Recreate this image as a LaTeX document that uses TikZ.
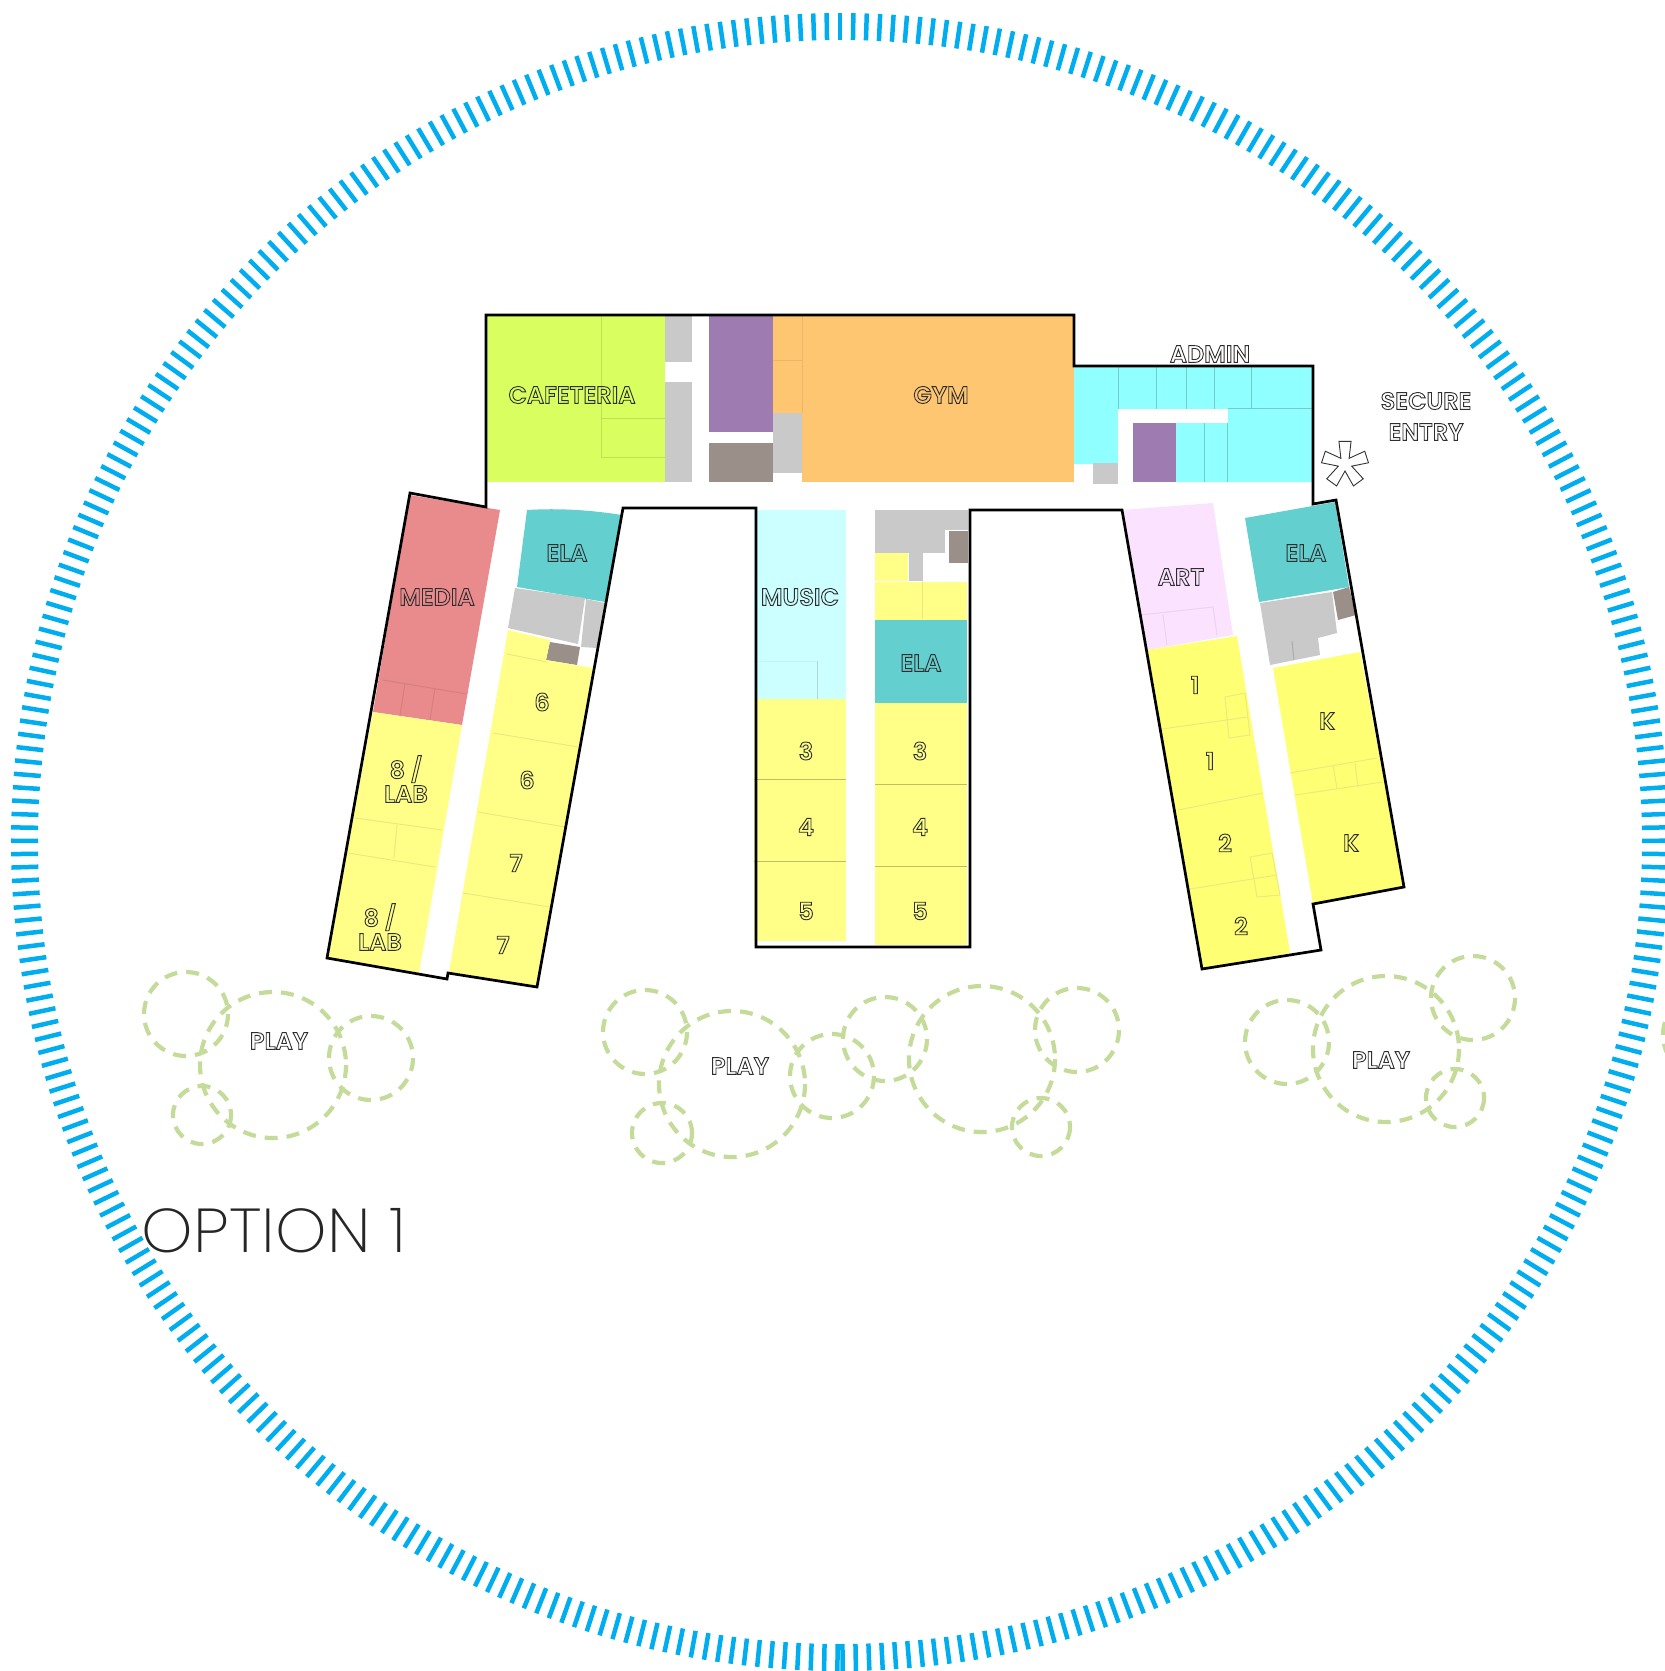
\documentclass[tikz,border=0pt]{standalone}
\usepackage{fontspec}
\setmainfont{Poppins}[UprightFont=* SemiBold]
\newfontfamily\thinfont{Poppins}[UprightFont=* ExtraLight]
\definecolor{tickblue}{HTML}{00AEEF}
\definecolor{limezone}{HTML}{D8FF5F}
\definecolor{orangezone}{HTML}{FFC671}
\definecolor{purplezone}{HTML}{9E7BB0}
\definecolor{brownzone}{HTML}{9B8F8A}
\definecolor{grayzone}{HTML}{C9C9C9}
\definecolor{adminzone}{HTML}{90FFFF}
\definecolor{musiczone}{HTML}{CCFFFF}
\definecolor{yellowzone}{HTML}{FFFF88}
\definecolor{tealzone}{HTML}{64CFCF}
\definecolor{mediazone}{HTML}{E98A8C}
\definecolor{artzone}{HTML}{FBE2FF}
\definecolor{playgreen}{HTML}{C4DB9A}
\newcommand{\hollowon}{\special{pdf:code 1 Tr 0.9 w 0.18 0.18 0.18 RG}}
\newcommand{\hollowoff}{\special{pdf:code 0 Tr}}
\newcommand{\hollow}[1]{\hollowon #1\hollowoff}
\tikzset{
	tickmark/.style={tickblue,line width=4.5},
	outline/.style={black,line width=2.7,line join=miter},
	roomline/.style={line width=1},
	playring/.style={playgreen,line width=4.2,dash pattern=on 13 off 9},
	room/.style={font=\fontsize{24}{24}\selectfont,align=center,inner sep=0pt},
}
\begin{document}
\begin{tikzpicture}[x=1pt,y=-1pt]
	\useasboundingbox (0,0) rectangle (1665,1671);
	% ring
	\foreach \i in {0,...,388} {
		\pgfmathsetmacro{\a}{90.176+\i*0.92693}
		\draw[tickmark] ([shift={(840,842)}]\a:802) -- ([shift={(840,842)}]\a:829);
	}
	% north bar
	\fill[limezone] (486,315) rectangle (665,482);
	\fill[grayzone] (665,315) rectangle (692,362);
	\fill[grayzone] (665,382) rectangle (692,482);
	\fill[purplezone] (709,315) rectangle (773,432);
	\fill[brownzone] (709,443) rectangle (773,482);
	\fill[orangezone] (773,315) rectangle (802,413);
	\fill[grayzone] (773,413) rectangle (802,473);
	\fill[orangezone] (802,315) rectangle (1074,482);
	\fill[adminzone] (1074,366) -- (1312,366) -- (1312,482) -- (1118,482) -- (1118,464) -- (1074,464) -- cycle;
	\fill[white] (1118,409) rectangle (1228,423);
	\fill[white] (1118,409) rectangle (1133,482);
	\fill[purplezone] (1133,423) rectangle (1176,482);
	\fill[grayzone] (1093,463) rectangle (1118,484);
	% west wing
	\fill[mediazone] (410,495) -- (500,510) -- (462,725) -- (373,712) -- cycle;
	\fill[yellowzone] (373,712) -- (462,725) -- (419,973) -- (327,958) -- cycle;
	\fill[tealzone] (527,510) .. controls (560,508) and (590,510) .. (622,515) -- (605,602) -- (517,587) -- cycle;
	\fill[grayzone] (515,588) -- (585,598) -- (578,644) -- (508,628) -- cycle;
	\fill[grayzone] (586,599) -- (605,603) -- (597,648) -- (581,647) -- cycle;
	\fill[brownzone] (550,642) -- (580,647) -- (577,665) -- (546,660) -- cycle;
	\fill[yellowzone] (508,630) -- (550,640) -- (546,660) -- (593,668) -- (537,987) -- (449,972) -- cycle;
	% center wing
	\fill[musiczone] (754,510) rectangle (846,699);
	\fill[yellowzone] (754,699) rectangle (846,941);
	\fill[grayzone] (875,510) rectangle (945,553);
	\fill[grayzone] (945,510) rectangle (968,530);
	\fill[brownzone] (949,531) rectangle (968,563);
	\fill[yellowzone] (875,553) rectangle (908,581);
	\fill[grayzone] (909,553) rectangle (923,581);
	\fill[yellowzone] (875,582) rectangle (967,620);
	\fill[tealzone] (875,620) rectangle (967,703);
	\fill[yellowzone] (875,703) rectangle (967,945);
	% east wing
	\fill[artzone] (1122,510) -- (1213,503) -- (1233,635) -- (1147,650) -- cycle;
	\fill[yellowzone!85!yellow] (1147,650) -- (1237,636) -- (1290,953) -- (1202,969) -- cycle;
	\fill[tealzone] (1245,518) -- (1335,502) -- (1349,587) -- (1259,602) -- cycle;
	\fill[grayzone] (1260,603) -- (1332,592) -- (1337,633) -- (1318,638) -- (1320,655) -- (1270,665) -- cycle;
	\fill[brownzone] (1333,592) -- (1349,587) -- (1356,615) -- (1338,620) -- cycle;
	\fill[yellowzone!85!yellow] (1273,668) -- (1360,652) -- (1404,887) -- (1313,904) -- cycle;
	% room lines
	\draw[roomline,limezone!88!black] (601,315) -- (601,457) -- (665,457) (601,418) -- (665,418);
	\draw[roomline,orangezone!92!black] (802,315) -- (802,413) (773,360) -- (802,360);
	\draw[roomline,adminzone!80!black] (1118,366) -- (1118,409) (1156,366) -- (1156,409) (1186,366) -- (1186,409) (1214,366) -- (1214,409) (1251,366) -- (1251,408) (1228,408) -- (1312,408) (1204,423) -- (1204,482) (1227,423) -- (1227,482);
	\draw[roomline,mediazone!92!black] (383,680) -- (467,694) (405,683) -- (400,716) (435,688) -- (430,720);
	\draw[roomline,yellowzone!92!black] (355,818) -- (442,830) (348,853) -- (435,867) (397,825) -- (394,858);
	\draw[roomline,yellowzone!92!black] (507,654) -- (547,662) (493,733) -- (578,747) (478,812) -- (565,827) (463,893) -- (550,907);
	\draw[roomline,musiczone!85!black] (817,661) -- (817,699);
	\draw[roomline,musiczone!96!black] (754,661) -- (817,661);
	\draw[roomline,yellowzone!75!black] (754,779) -- (846,779) (754,861) -- (846,861) (875,784) -- (967,784) (875,866) -- (967,866);
	\draw[roomline,yellowzone!92!black] (922,582) -- (922,619);
	\draw[roomline,artzone!94!black] (1140,615) -- (1213,607) -- (1217,635) (1163,615) -- (1167,645);
	\draw[roomline,yellowzone!92!black] (1162,729) -- (1248,717) (1178,810) -- (1263,793) (1190,889) -- (1277,875);
	\draw[roomline,yellowzone!92!black] (1225,697) -- (1245,693) -- (1250,735) -- (1229,738) -- cycle (1250,857) -- (1272,853) -- (1280,895) -- (1257,897) -- cycle;
	\draw[roomline,yellowzone!92!black] (1290,773) -- (1377,758) (1295,795) -- (1383,782) (1333,765) -- (1337,788) (1355,763) -- (1358,787);
	\draw[roomline,grayzone!85!black] (1292,641) -- (1294,660);
	% building
	\draw[outline] (486,315) -- (1074,315) -- (1074,366) -- (1313,366) -- (1313,504) -- (1336,500) -- (1404,887) -- (1313,904) -- (1321,950) -- (1202,969) -- (1122,510) -- (970,510) -- (970,947) -- (756,947) -- (756,508) -- (623,508) -- (537,987) -- (448,973) -- (447,979) -- (327,958) -- (410,493) -- (486,507) -- cycle;
	% entry mark
	\draw[black!80,line width=0.9,fill=white] ([shift={(1345,464)}]-126:7) \foreach \t in {-90,-18,54,126,198} { -- ([shift={(1345,464)}]\t-15:23.5) -- ([shift={(1345,464)}]\t+15:23.5) -- ([shift={(1345,464)}]\t+36:7) } -- cycle;
	% play areas
	\foreach \cx/\cy/\r in {273/1065/73,186/1014/42,371/1058/42,202/1115/29,732/1084/73,645/1032/42,662/1133/30,832/1076/42,885/1039/42,982/1059/73,1077/1030/42,1041/1127/29,1386/1049/73,1287/1042/42,1473/998/42,1455/1098/29}
		\draw[playring] (\cx,\cy) circle (\r);
	\begin{scope}
		\clip (0,0) rectangle (1665,1671);
		\draw[playring] (1705,1035) circle (42);
	\end{scope}
	% labels
	\node[room] (cafeteria) at (572,395) {\hollow{CAFETERIA}};
	\node[room] (gym) at (941,395) {\hollow{GYM}};
	\node[room] (admin) at (1210,354) {\hollow{ADMIN}};
	\node[room] (secure) at (1426,401) {\hollow{SECURE}};
	\node[room] (entry) at (1426,432) {\hollow{ENTRY}};
	\node[room] (media) at (437,597) {\hollow{MEDIA}};
	\node[room] (elaw) at (567,553) {\hollow{ELA}};
	\node[room] (sixa) at (542,702) {\hollow{6}};
	\node[room] (sixb) at (527,780) {\hollow{6}};
	\node[room] (sevena) at (516,863) {\hollow{7}};
	\node[room] (sevenb) at (503,945) {\hollow{7}};
	\node[room] (laba) at (406,779) {\hollow{8 /}\\\hollow{LAB}};
	\node[room] (labb) at (380,927) {\hollow{8 /}\\\hollow{LAB}};
	\node[room] (music) at (800,597) {\hollow{MUSIC}};
	\node[room] (elac) at (921,663) {\hollow{ELA}};
	\node[room] (threea) at (806,751) {\hollow{3}};
	\node[room] (foura) at (806,827) {\hollow{4}};
	\node[room] (fivea) at (806,911) {\hollow{5}};
	\node[room] (threeb) at (920,751) {\hollow{3}};
	\node[room] (fourb) at (920,827) {\hollow{4}};
	\node[room] (fiveb) at (920,911) {\hollow{5}};
	\node[room] (art) at (1181,577) {\hollow{ART}};
	\node[room] (elae) at (1306,553) {\hollow{ELA}};
	\node[room] (onea) at (1195,685) {\hollow{1}};
	\node[room] (oneb) at (1210,761) {\hollow{1}};
	\node[room] (twoa) at (1225,843) {\hollow{2}};
	\node[room] (twob) at (1241,926) {\hollow{2}};
	\node[room] (ka) at (1327,721) {\hollow{K}};
	\node[room] (kb) at (1351,843) {\hollow{K}};
	\node[room] (playw) at (279,1041) {\hollow{PLAY}};
	\node[room] (playc) at (740,1066) {\hollow{PLAY}};
	\node[room] (playe) at (1381,1060) {\hollow{PLAY}};
	\node[inner sep=0pt,text=black!85,font=\fontsize{62}{62}\thinfont] (option) at (274,1231) {\scalebox{1.055}[1]{OPTION 1}};
\end{tikzpicture}
\end{document}
